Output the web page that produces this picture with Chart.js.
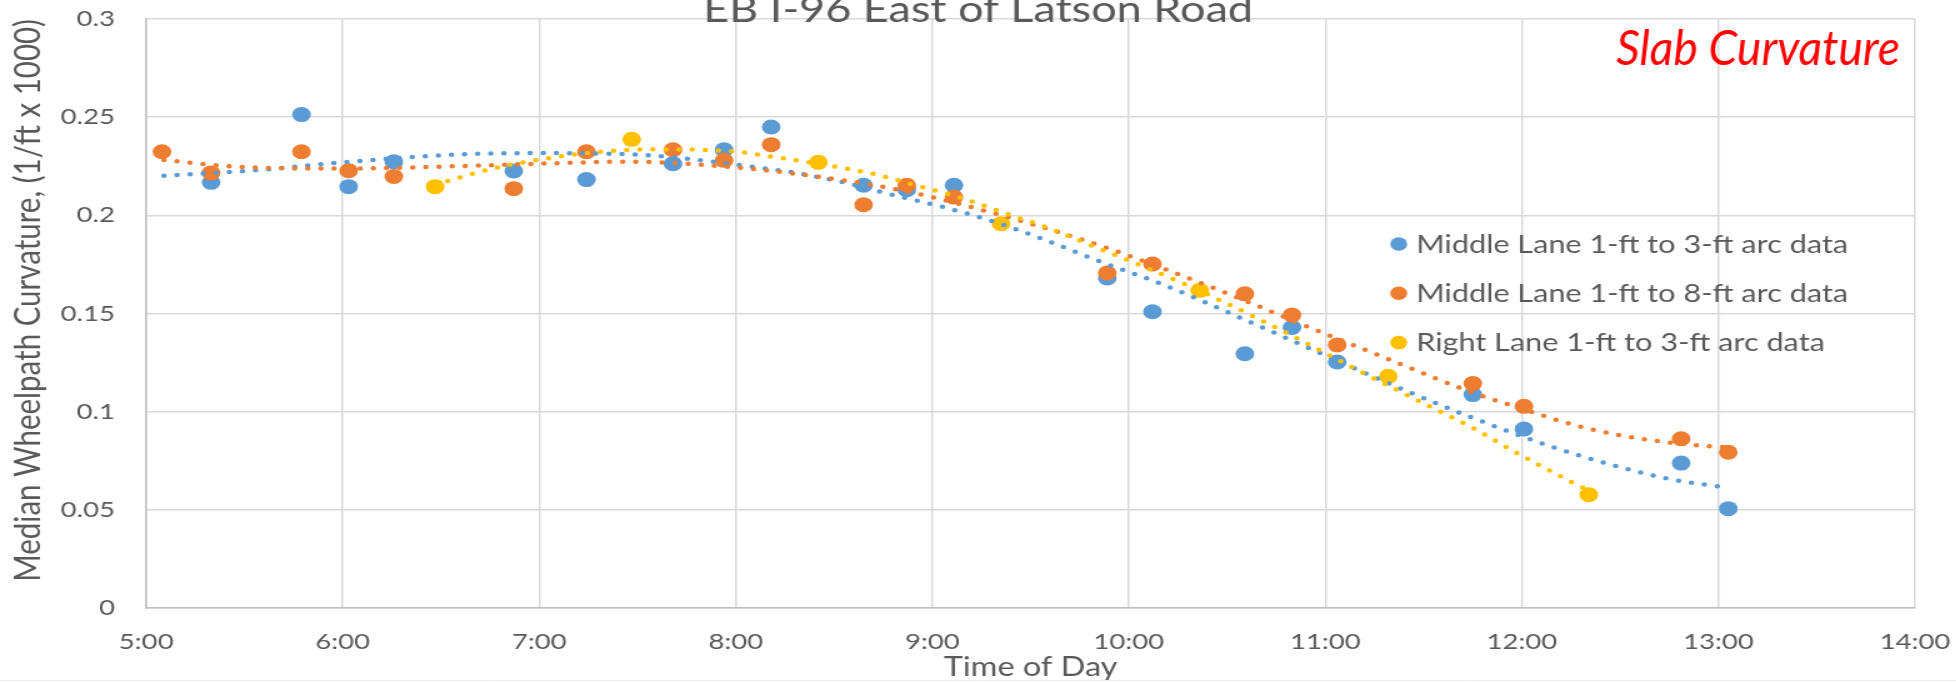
<!DOCTYPE html>
<html>
<head>
<meta charset="utf-8">
<title>EB I-96 East of Latson Road</title>
<script src="https://cdn.jsdelivr.net/npm/chart.js@4.4.1/dist/chart.umd.min.js"></script>
<style>
  html, body { margin: 0; padding: 0; background: #fff; overflow: hidden; }
  /* the chart is drawn narrow and widened, so text and markers come out stretched */
  #wrap { width: 1565px; height: 682px; transform: scaleX(1.25); transform-origin: 0 0; }
</style>
</head>
<body>
<div id="wrap"><canvas id="curvatureChart"></canvas></div>
<script>
const chartTitle = 'EB I-96 East of Latson Road';
const tagLine = 'Slab Curvature';
const xTitle = 'Time of Day';
const yTitle = 'Median Wheelpath Curvature, (1/ft x 1000)';

const seriesNames = [
    'Middle Lane 1-ft to 3-ft arc data',
    'Middle Lane 1-ft to 8-ft arc data',
    'Right Lane 1-ft to 3-ft arc data'
];
const seriesColors = ['#5B9BD5', '#ED7D31', '#FFC000'];

// measured points, time in decimal hours
const midShortHours = [5.33, 5.79, 6.03, 6.26, 6.87, 7.24, 7.68, 7.94, 8.18, 8.65, 8.87, 9.11, 9.89, 10.12, 10.59, 10.83, 11.06, 11.75, 12.01, 12.81, 13.05];
const midShortValues = [0.2168, 0.2513, 0.2146, 0.2273, 0.2226, 0.2182, 0.2263, 0.2334, 0.245, 0.2153, 0.213, 0.2153, 0.1681, 0.1509, 0.1295, 0.1429, 0.1253, 0.1087, 0.0912, 0.0738, 0.0506];

const midLongHours = [5.08, 5.33, 5.79, 6.03, 6.26, 6.87, 7.24, 7.68, 7.94, 8.18, 8.65, 8.87, 9.11, 9.89, 10.12, 10.59, 10.83, 11.06, 11.75, 12.01, 12.81, 13.05];
const midLongValues = [0.2324, 0.2216, 0.2324, 0.2227, 0.2198, 0.2136, 0.2324, 0.2334, 0.228, 0.236, 0.2054, 0.2153, 0.2093, 0.1706, 0.1752, 0.160, 0.1492, 0.134, 0.1143, 0.1027, 0.0862, 0.0793];

const rightHours = [6.47, 7.47, 8.42, 9.35, 10.36, 11.32, 12.34];
const rightValues = [0.2146, 0.2387, 0.227, 0.1957, 0.1618, 0.118, 0.0577];

// trendlines
const midShortTrendHours = [5.09, 5.55, 6.06, 6.57, 6.97, 7.43, 7.63, 8.00, 8.33, 8.56, 8.80, 9.04, 9.28, 9.56, 9.84, 10.18, 10.57, 11.01, 11.39, 11.73, 12.12, 12.47, 12.77, 13.02];
const midShortTrend = [0.2202, 0.2229, 0.2275, 0.2309, 0.2317, 0.2312, 0.2300, 0.2258, 0.2212, 0.2165, 0.2104, 0.2046, 0.1978, 0.1880, 0.1770, 0.1645, 0.1477, 0.1282, 0.1115, 0.0976, 0.0832, 0.0725, 0.0653, 0.0616];

const midLongTrendHours = [5.09, 5.48, 6.00, 6.53, 7.00, 7.45, 7.98, 8.43, 8.74, 9.04, 9.34, 9.63, 9.92, 10.43, 10.92, 11.42, 11.70, 11.93, 12.34, 12.64, 12.96, 13.05];
const midLongTrend = [0.2282, 0.2246, 0.2238, 0.2249, 0.2263, 0.2273, 0.2246, 0.2195, 0.2147, 0.2083, 0.2003, 0.1918, 0.1823, 0.1630, 0.1429, 0.1227, 0.1115, 0.1037, 0.0913, 0.0857, 0.0823, 0.0818];

const rightTrendHours = [6.47, 6.54, 6.76, 7.00, 7.25, 7.57, 7.96, 8.21, 8.46, 8.70, 8.93, 9.16, 9.38, 9.60, 9.82, 10.08, 10.45, 10.81, 11.15, 11.50, 11.76, 11.95, 12.29, 12.34];
const rightTrend = [0.2159, 0.2177, 0.2238, 0.2283, 0.2318, 0.2336, 0.2328, 0.2295, 0.2256, 0.2211, 0.2149, 0.2085, 0.2007, 0.1932, 0.1842, 0.1737, 0.1574, 0.1397, 0.1219, 0.1042, 0.0912, 0.0803, 0.0623, 0.0600];

const textColor = '#595959';
const fontFamily = 'Lato, "Open Sans", sans-serif';

function toPoints(hours, values) {
    return hours.map((h, i) => ({ x: h, y: values[i] }));
}

function markerSet(idx, hours, values, order) {
    return {
        label: seriesNames[idx],
        data: toPoints(hours, values),
        backgroundColor: seriesColors[idx],
        borderColor: seriesColors[idx],
        pointRadius: 7.5,
        pointHoverRadius: 7.5,
        pointBorderWidth: 0,
        showLine: false,
        order: order
    };
}

function trendSet(idx, hours, values, order) {
    return {
        label: seriesNames[idx] + ' trend',
        data: toPoints(hours, values),
        borderColor: seriesColors[idx],
        backgroundColor: seriesColors[idx],
        borderWidth: 4.5,
        borderDash: [0, 10.5],
        borderCapStyle: 'round',
        cubicInterpolationMode: 'monotone',
        pointRadius: 0,
        pointHoverRadius: 0,
        showLine: true,
        fill: false,
        order: order
    };
}

// heading, red tag, in-plot legend
const decorations = {
    id: 'decorations',
    afterDraw(chart) {
        const { ctx, chartArea } = chart;
        ctx.save();

        ctx.fillStyle = textColor;
        ctx.font = '36px ' + fontFamily;
        ctx.textAlign = 'center';
        ctx.textBaseline = 'alphabetic';
        ctx.fillText(chartTitle, chart.width / 2, chartArea.top + 2.5);

        ctx.font = 'italic 48px ' + fontFamily;
        const w = ctx.measureText(tagLine).width;
        ctx.translate(chartArea.right - 12, 65);
        ctx.scale(227 / w, 1);
        ctx.textAlign = 'right';
        ctx.fillStyle = '#FF0000';
        ctx.fillText(tagLine, 0, 0);
        ctx.setTransform(1, 0, 0, 1, 0, 0);

        ctx.font = '24.5px ' + fontFamily;
        ctx.textAlign = 'left';
        seriesNames.forEach((name, i) => {
            const y = 244 + i * 49.3;
            const x = chartArea.right - 413;
            ctx.fillStyle = seriesColors[i];
            ctx.beginPath();
            ctx.arc(x, y, 6.8, 0, Math.PI * 2);
            ctx.fill();
            ctx.fillStyle = textColor;
            ctx.fillText(name, x + 14, y + 8.5);
        });

        ctx.strokeStyle = '#EDEDED';
        ctx.lineWidth = 1;
        ctx.beginPath();
        ctx.moveTo(0, chart.height - 1.5);
        ctx.lineTo(chart.width, chart.height - 1.5);
        ctx.stroke();
        ctx.restore();
    }
};

new Chart(document.getElementById('curvatureChart'), {
    type: 'scatter',
    data: {
        datasets: [
            trendSet(2, rightTrendHours, rightTrend, 1),
            trendSet(1, midLongTrendHours, midLongTrend, 2),
            trendSet(0, midShortTrendHours, midShortTrend, 3),
            markerSet(2, rightHours, rightValues, 4),
            markerSet(1, midLongHours, midLongValues, 5),
            markerSet(0, midShortHours, midShortValues, 6)
        ]
    },
    options: {
        responsive: true,
        maintainAspectRatio: false,
        animation: false,
        layout: { padding: { top: 19, right: 33, left: 0, bottom: 0 } },
        plugins: {
            legend: { display: false },
            title: { display: false },
            tooltip: { enabled: false }
        },
        scales: {
            x: {
                type: 'linear',
                min: 5,
                max: 14,
                // fixed band under the plot; end labels may overhang into the layout padding
                afterFit: s => { s.height = 74; s.paddingLeft = 0; s.paddingRight = 0; },
                ticks: {
                    stepSize: 1,
                    padding: 21,
                    color: textColor,
                    font: { family: fontFamily, size: 22 },
                    callback: v => v + ':00'
                },
                grid: { color: '#D9D9D9', lineWidth: 1.5, drawTicks: false },
                border: { color: '#BFBFBF', width: 1.5 },
                title: {
                    display: true,
                    text: xTitle,
                    color: textColor,
                    font: { family: fontFamily, size: 26, lineHeight: 1 },
                    padding: { top: 0, bottom: 1 }
                }
            },
            y: {
                min: 0,
                max: 0.3,
                afterFit: s => { s.width = 117; s.paddingTop = 0; s.paddingBottom = 0; },
                ticks: {
                    stepSize: 0.05,
                    padding: 25,
                    color: textColor,
                    font: { family: fontFamily, size: 22 },
                    callback: v => String(+v.toFixed(2))
                },
                grid: { color: '#D9D9D9', lineWidth: 1.5, drawTicks: false },
                border: { color: '#BFBFBF', width: 1.5 },
                title: {
                    display: true,
                    align: 'end',
                    text: yTitle,
                    color: textColor,
                    font: { family: fontFamily, size: 29.5, lineHeight: 1.2 },
                    padding: { top: 5, bottom: 0 }
                }
            }
        }
    },
    plugins: [decorations]
});
</script>
</body>
</html>
